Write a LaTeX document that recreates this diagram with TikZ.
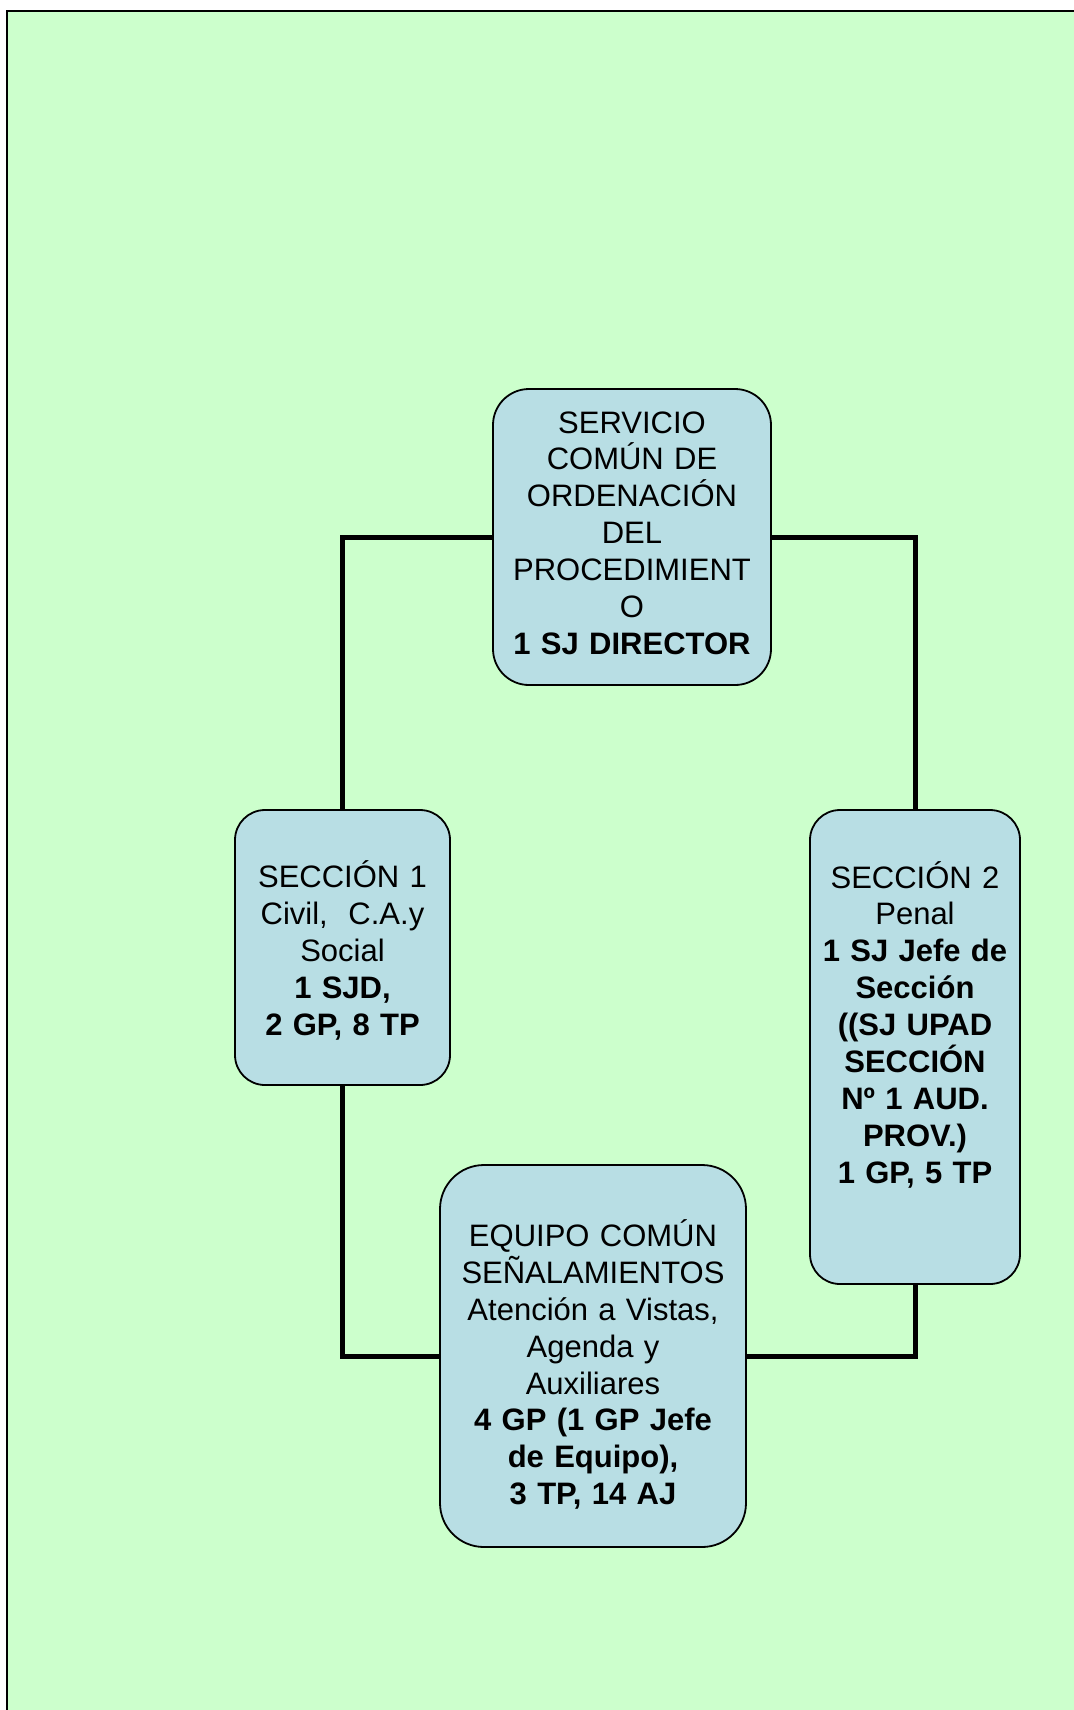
\documentclass[tikz,border=0pt]{standalone}
\usepackage{fontspec}
\setmainfont{Liberation Sans}
\usepackage{xcolor}
\definecolor{fondo}{HTML}{CCFFCC}
\definecolor{celeste}{HTML}{B8DEE4}

\begin{document}
\begin{tikzpicture}[x=0.5pt,y=-0.5pt]
\tikzset{
    unidad/.style={%
        draw=black, line width=0.9pt,
        fill=celeste,
        rectangle,
        align=center,
        inner sep=2pt,
        text height=12pt,
        font=\fontsize{15.5}{18.45}\selectfont
        },
    enlace/.style={%
        draw=black,
        line width=2.5pt
        },
}
\useasboundingbox (0,0) rectangle (1074,1710);
%%%FONDO
\filldraw[fill=fondo, draw=black, line width=1.2pt] (7,11) rectangle (1090,1730);
%%%UNIDADES
\node[unidad, rounded corners=18pt, minimum width=139pt, minimum height=148pt, text width=132pt,
      text depth=116pt] (scop) at (632,537)
    {SERVICIO\\COMÚN DE\\ORDENACIÓN\\DEL\\PROCEDIMIENT\\O\\\textbf{1 SJ DIRECTOR}};
\node[unidad, rounded corners=15pt, minimum width=107.5pt, minimum height=137.5pt, text width=102pt,
      text depth=71.8pt] (sec1) at (342.5,947.5)
    {SECCIÓN 1\\Civil,\ \ C.A.y\\Social\\\textbf{1 SJD,}\\\textbf{2 GP, 8 TP}};
\node[unidad, rounded corners=15pt, minimum width=105pt, minimum height=237pt, text width=100pt,
      text depth=171pt] (sec2) at (915,1047)
    {SECCIÓN 2\\Penal\\\textbf{1 SJ Jefe de}\\\textbf{Sección}\\\textbf{((SJ UPAD}\\\textbf{SECCIÓN}\\\textbf{Nº 1 AUD.}\\\textbf{PROV.)}\\\textbf{1 GP, 5 TP}};
\node[unidad, rounded corners=22pt, minimum width=153pt, minimum height=191pt, text width=146pt,
      text depth=121.6pt] (ecs) at (593,1356)
    {EQUIPO COMÚN\\SEÑALAMIENTOS\\Atención a Vistas,\\Agenda y\\Auxiliares\\\textbf{4 GP (1 GP Jefe}\\\textbf{de Equipo),}\\\textbf{3 TP, 14 AJ}};
%%%ENLACES
\draw[enlace] (scop.west) -| (sec1.north);
\draw[enlace] (scop.east) -| (sec2.north);
\draw[enlace] (sec1.south) |- (ecs.west);
\draw[enlace] (sec2.south) |- (ecs.east);
\end{tikzpicture}
\end{document}
